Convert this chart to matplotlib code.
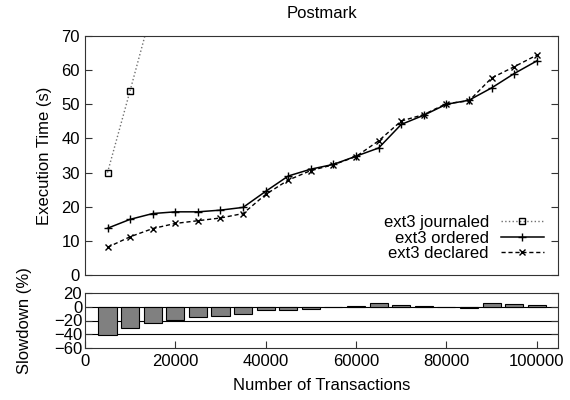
import numpy as np
import matplotlib
matplotlib.use("Agg")
import matplotlib.pyplot as plt

plt.rcParams['font.family'] = ['Liberation Sans', 'DejaVu Sans']
plt.rcParams['font.size'] = 12

# number of transactions
trans = [5000, 10000, 15000, 20000, 25000, 30000, 35000, 40000, 45000, 50000,
         55000, 60000, 65000, 70000, 75000, 80000, 85000, 90000, 95000, 100000]
# execution time (s)
journaled_x = [5000, 10000, 15000]
journaled = [30.0, 54.0, 78.5]
ordered = [13.7, 16.3, 18.0, 18.5, 18.5, 19.0, 19.8, 24.5, 29.0, 31.0,
           32.4, 34.8, 37.2, 44.1, 46.8, 50.0, 51.2, 54.8, 59.0, 62.7]
declared = [8.1, 11.2, 13.6, 15.1, 15.9, 16.7, 18.0, 23.6, 27.8, 30.6,
            32.3, 34.7, 39.3, 45.1, 47.0, 50.2, 51.0, 57.7, 61.0, 64.4]
# slowdown (%)
slowdown = [-41, -31.5, -24, -19, -14.5, -13, -10.5, -4.5, -5, -2.8,
            -0.5, 1, 5, 2.5, 1, -0.3, -2.2, 5, 3.5, 2.5]

spine_col = '#333333'
fig = plt.figure(figsize=(5.7, 4.0), dpi=100)

# upper panel
ax = fig.add_axes([0.149, 0.3125, 0.830, 0.5975])
ax.plot(journaled_x, journaled, linestyle=':', color='#707070', lw=1,
        marker='s', mfc='none', mec='black', ms=4.5, mew=1, label='ext3 journaled')
ax.plot(trans, ordered, '-', color='black', lw=1.1,
        marker='+', ms=6, mew=1, label='ext3 ordered')
ax.plot(trans, declared, '--', color='black', lw=1, dashes=(3, 2),
        marker='x', ms=5, mew=1, label='ext3 declared')
ax.set_xlim(0, 104700)
ax.set_ylim(0, 70)
ax.set_yticks(range(0, 71, 10))
ax.set_xticks([])
ax.tick_params(axis='y', direction='in', right=True, length=5, color=spine_col)
for s in ax.spines.values():
    s.set_color(spine_col)
ax.set_title("Postmark", fontsize=12, pad=13)
ax.set_ylabel("Execution Time (s)", labelpad=7)
ax.legend(loc='lower right', frameon=False, markerfirst=False,
          handlelength=2.6, labelspacing=0.02, borderaxespad=0.45,
          handletextpad=0.7)

# lower panel
bx = fig.add_axes([0.149, 0.13, 0.830, 0.1375])
for yv in [0, -20, -40]:
    bx.axhline(yv, color='black', lw=0.8, zorder=1)
bx.bar(trans, slowdown, width=4000, color='#808080', edgecolor='black',
       lw=0.8, zorder=2)
bx.set_xlim(0, 104700)
bx.set_ylim(-60, 20)
bx.set_yticks([20, 0, -20, -40, -60])
bx.set_xticks([0, 20000, 40000, 60000, 80000, 100000])
bx.tick_params(direction='in', right=True, length=5, color=spine_col, pad=4)
bx.tick_params(axis='y', pad=2)
for s in bx.spines.values():
    s.set_color(spine_col)
bx.set_ylabel("Slowdown (%)", labelpad=16)
bx.set_xlabel("Number of Transactions", labelpad=7)

fig.savefig("out.png", dpi=100)
